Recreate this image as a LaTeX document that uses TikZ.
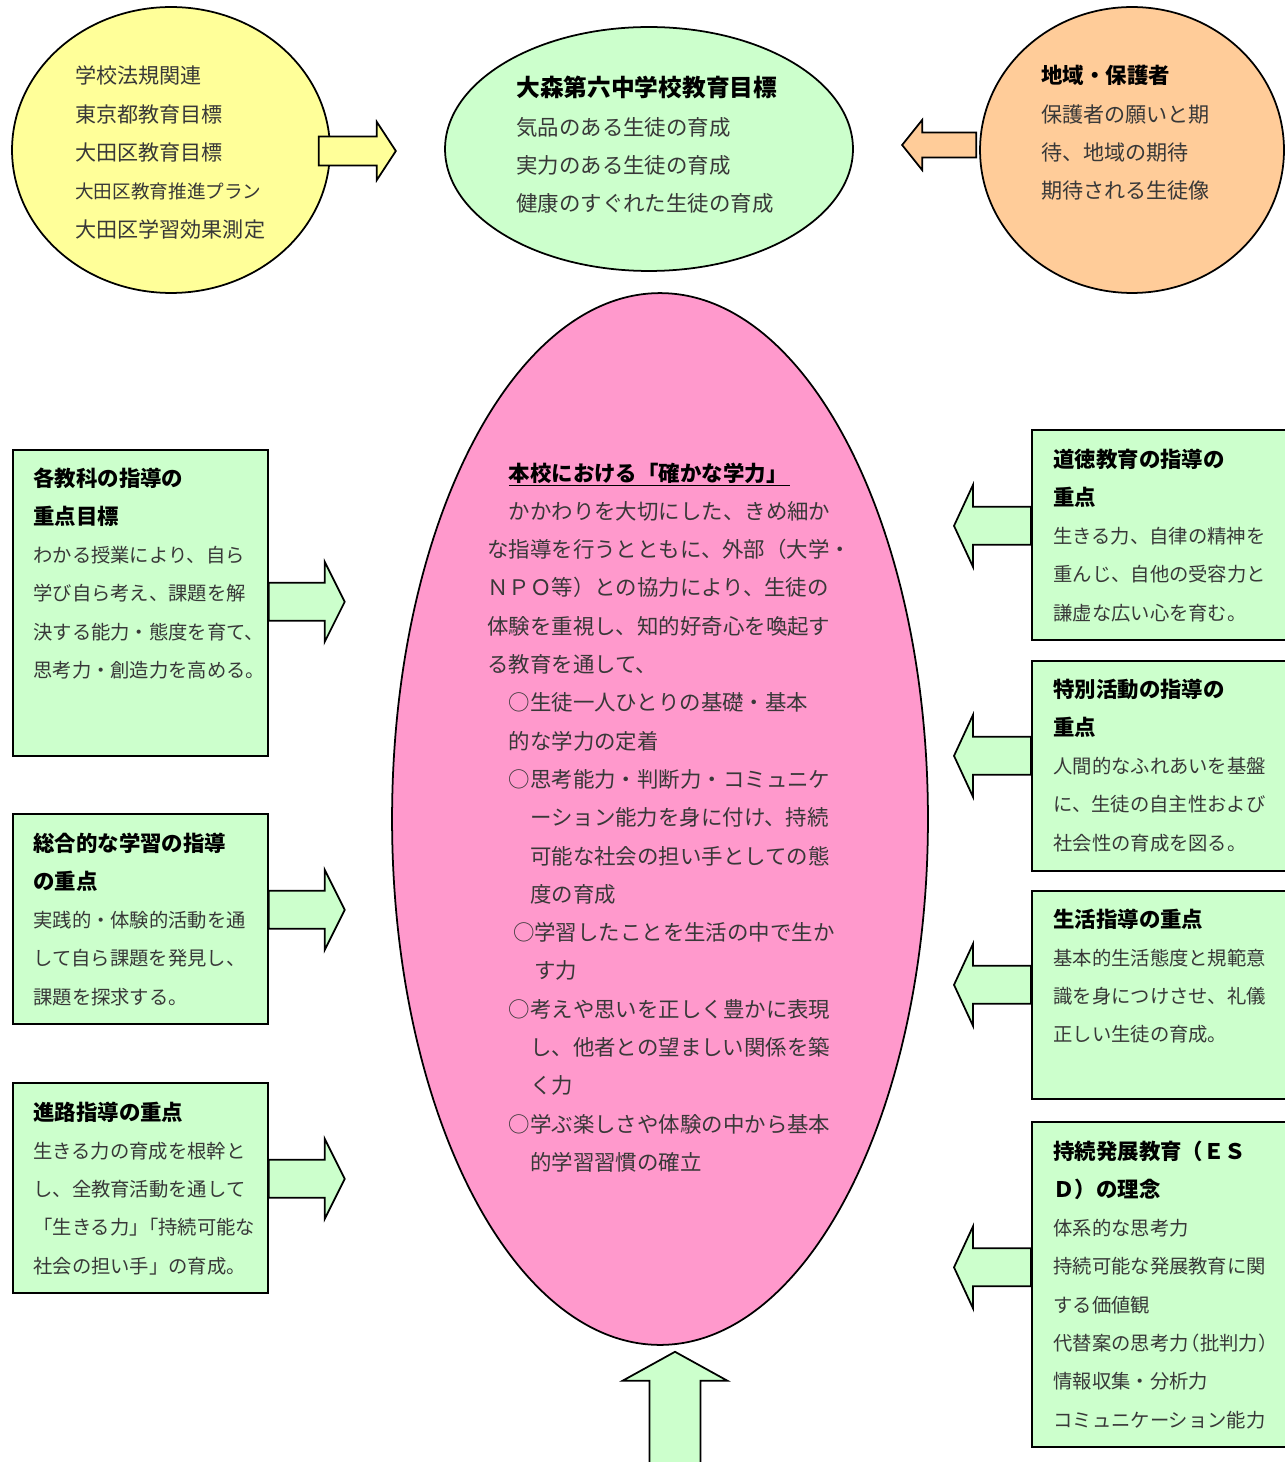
\documentclass[tikz,border=0pt]{standalone}
\usepackage{fontspec}
\setmainfont{Noto Sans CJK JP}
\usetikzlibrary{shapes.geometric, calc}

\definecolor{yelfill}{HTML}{FFFF99}
\definecolor{grnfill}{HTML}{CCFFCC}
\definecolor{orgfill}{HTML}{FFCC99}
\definecolor{pnkfill}{HTML}{FF99CC}
\definecolor{bodytext}{HTML}{383838}

\tikzset{
    goal/.style={
        ellipse, draw=black, line width=1pt,
        inner sep=0pt
    },
    focusbox/.style={
        rectangle, draw=black, line width=1pt, fill=grnfill,
        anchor=north west, minimum width=5.1cm
    },
    txt/.style={
        anchor=base west, inner sep=0pt, align=left, text width=#1,
        font=\fontsize{11pt}{21.8pt}\selectfont, text=bodytext
    },
    txt/.default=5cm,
    blockarrow/.style={draw=black, line width=1pt, fill=#1}
}

% bold heading line
\newcommand{\boxtitle}[1]{{\fontsize{12.2pt}{21.8pt}\selectfont\bfseries\color{black}#1}}
% block arrow: fill, start, angle, length, half shaft, half head, head length
\newcommand{\blockarr}[7]{%
  \draw[blockarrow=#1, shift={#2}, rotate=#3]
    (0,-#5) -- ({#4-#7},-#5) -- ({#4-#7},-#6) -- (#4,0)
    -- ({#4-#7},#6) -- ({#4-#7},#5) -- (0,#5) -- cycle;}

\begin{document}
\begin{tikzpicture}[x=0.02cm, y=-0.02cm]
\useasboundingbox (0,0) rectangle (1284,1462);

% Top ellipses
\node[goal, fill=yelfill, minimum width=6.36cm, minimum height=5.72cm] (laws) at (171,150) {};
\node[goal, fill=grnfill, minimum width=8.16cm, minimum height=4.88cm] (schoolgoal) at (649,149) {};
\node[goal, fill=orgfill, minimum width=6.08cm, minimum height=5.72cm] (community) at (1132,150) {};

% Central ellipse
\node[goal, fill=pnkfill, minimum width=10.72cm, minimum height=21.04cm] (ability) at (660,819) {};

% Left boxes
\node[focusbox, minimum height=6.12cm] (subjects) at (12,449) {};
\node[focusbox, minimum height=4.2cm] (integrated) at (12,813) {};
\node[focusbox, minimum height=4.2cm] (career) at (12,1082) {};

% Right boxes
\node[focusbox, minimum width=5.6cm, minimum height=4.2cm] (moral) at (1031,429) {};
\node[focusbox, minimum width=5.6cm, minimum height=4.2cm] (special) at (1031,660) {};
\node[focusbox, minimum width=5.6cm, minimum height=4.16cm] (guidance) at (1031,890) {};
\node[focusbox, minimum width=5.6cm, minimum height=6.5cm] (esd) at (1031,1121) {};

% Arrows into the goals
\blockarr{yelfill}{($(laws.east)+(-12,1)$)}{0}{77}{14.5}{29}{19}
\blockarr{orgfill}{($(community.west)+(-3,-5)$)}{180}{74}{12.5}{25}{20}

% Arrows from the boxes
\blockarr{grnfill}{($(subjects.east)+(0,-1)$)}{0}{76}{19}{40}{20}
\blockarr{grnfill}{($(integrated.east)+(0,-9)$)}{0}{76}{19}{40}{20}
\blockarr{grnfill}{($(career.east)+(0,-9)$)}{0}{76}{19}{40}{20}
\blockarr{grnfill}{($(moral.west)+(0,-9)$)}{180}{77}{19}{41}{19}
\blockarr{grnfill}{($(special.west)+(0,-10)$)}{180}{77}{19}{41}{19}
\blockarr{grnfill}{($(guidance.west)+(0,-10)$)}{180}{77}{19}{41}{19}
\blockarr{grnfill}{($(esd.west)+(0,-17)$)}{180}{77}{19}{41}{19}
\blockarr{grnfill}{($(ability.south)+(15,125)$)}{90}{119}{25.5}{52.5}{29}

% Texts
\node[txt=6cm, font=\fontsize{12pt}{21.8pt}\selectfont] (lawstext) at (75,84)
  {学校法規関連\\東京都教育目標\\大田区教育目標\\{\fontsize{10.6pt}{21.8pt}\selectfont 大田区教育推進プラン}\\大田区学習効果測定};
\node[txt=8cm, font=\fontsize{12.2pt}{21.8pt}\selectfont] (goaltext) at (516,97)
  {{\fontsize{13.5pt}{21.8pt}\selectfont\bfseries\color{black}大森第六中学校教育目標}\\気品のある生徒の育成\\実力のある生徒の育成\\健康のすぐれた生徒の育成};
\node[txt=6cm, font=\fontsize{12pt}{21.8pt}\selectfont] (communitytext) at (1041,84)
  {\boxtitle{地域・保護者}\\保護者の願いと期\\待、地域の期待\\期待される生徒像};

\node[txt=9cm, font=\fontsize{12.2pt}{21.8pt}\selectfont] (abilitytext) at (487,481)
  {\hspace*{1em}{\color{black}\underline{\bfseries 本校における「確かな学力」\hspace{0.1em}}}\\
   \hspace*{1em}かかわりを大切にした、きめ細か\\
   な指導を行うとともに、外部（大学・\\
   ＮＰＯ等）との協力により、生徒の\\
   体験を重視し、知的好奇心を喚起す\\
   る教育を通して、\\
   \hspace*{1em}○生徒一人ひとりの基礎・基本\\
   \hspace*{1em}的な学力の定着\\
   \hspace*{1em}○思考能力・判断力・コミュニケ\\
   \hspace*{2em}ーション能力を身に付け、持続\\
   \hspace*{2em}可能な社会の担い手としての態\\
   \hspace*{2em}度の育成\\
   \hspace*{1.2em}○学習したことを生活の中で生か\\
   \hspace*{2.2em}す力\\
   \hspace*{1em}○考えや思いを正しく豊かに表現\\
   \hspace*{2em}し、他者との望ましい関係を築\\
   \hspace*{2em}く力\\
   \hspace*{1em}○学ぶ楽しさや体験の中から基本\\
   \hspace*{2em}的学習習慣の確立};

\node[txt] (subjectstext) at (33,486)
  {\boxtitle{各教科の指導の}\\\boxtitle{重点目標}\\わかる授業により、自ら\\学び自ら考え、課題を解\\決する能力・態度を育て、\\思考力・創造力を高める。};
\node[txt] (integratedtext) at (33,851)
  {\boxtitle{総合的な学習の指導}\\\boxtitle{の重点}\\実践的・体験的活動を通\\して自ら課題を発見し、\\課題を探求する。};
\node[txt] (careertext) at (33,1120)
  {\boxtitle{進路指導の重点}\\生きる力の育成を根幹と\\し、全教育活動を通して\\「生きる力」\kern-0.5em「持続可能な\\社会の担い手」の育成。};

\node[txt] (moraltext) at (1053,467)
  {\boxtitle{道徳教育の指導の}\\\boxtitle{重点}\\生きる力、自律の精神を\\重んじ、自他の受容力と\\謙虚な広い心を育む。};
\node[txt] (specialtext) at (1053,697)
  {\boxtitle{特別活動の指導の}\\\boxtitle{重点}\\人間的なふれあいを基盤\\に、生徒の自主性および\\社会性の育成を図る。};
\node[txt] (guidancetext) at (1053,927)
  {\boxtitle{生活指導の重点}\\基本的生活態度と規範意\\識を身につけさせ、礼儀\\正しい生徒の育成。};
\node[txt] (esdtext) at (1053,1159)
  {\boxtitle{持続発展教育（ＥＳ}\\\boxtitle{Ｄ）の理念}\\体系的な思考力\\持続可能な発展教育に関\\する価値観\\代替案の思考力\kern-0.4em（批判力）\\情報収集・分析力\\コミュニケーション能力};

\end{tikzpicture}
\end{document}
